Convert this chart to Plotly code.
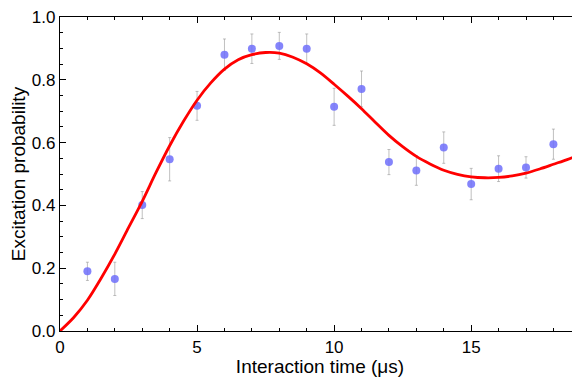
import plotly.graph_objects as go

# Measured data points
time_us = [1, 2, 3, 4, 5, 6, 7, 8, 9, 10, 11, 12, 13, 14, 15, 16, 17, 18, 19]
prob = [0.190, 0.166, 0.401, 0.547, 0.717, 0.880, 0.899, 0.908, 0.899, 0.714,
        0.771, 0.538, 0.511, 0.584, 0.468, 0.517, 0.521, 0.595, 0.632]
prob_err = [0.029, 0.053, 0.043, 0.069, 0.046, 0.050, 0.047, 0.043, 0.047, 0.059,
            0.057, 0.040, 0.047, 0.050, 0.050, 0.041, 0.034, 0.048, 0.045]

# Fit curve
fit_t = [0, 0.5, 1, 1.5, 2, 2.5, 3, 3.5, 4, 4.5, 5, 5.5, 6, 6.5, 7, 7.5, 8, 8.5,
         9, 9.5, 10, 10.5, 11, 11.5, 12, 12.5, 13, 13.5, 14, 14.5, 15, 15.5, 16,
         16.5, 17, 17.5, 18, 18.5, 19]
fit_p = [0.0, 0.043, 0.098, 0.168, 0.245, 0.329, 0.413, 0.504, 0.590, 0.667,
         0.735, 0.790, 0.834, 0.864, 0.880, 0.887, 0.885, 0.872, 0.851, 0.822,
         0.786, 0.748, 0.708, 0.665, 0.623, 0.587, 0.556, 0.532, 0.512, 0.499,
         0.491, 0.488, 0.489, 0.494, 0.503, 0.516, 0.531, 0.546, 0.562]

x_ticks = [0, 5, 10, 15]
y_ticks = [0.0, 0.2, 0.4, 0.6, 0.8, 1.0]
y_tick_text = ["0.0", "0.2", "0.4", "0.6", "0.8", "1.0"]

fig = go.Figure()
fig.add_trace(go.Scatter(
    x=time_us, y=prob, mode="markers",
    marker=dict(size=8, color="rgba(110,110,250,0.85)"),
    error_y=dict(type="data", array=prob_err, color="rgba(150,150,150,0.6)",
                 thickness=1, width=1.5),
    showlegend=False,
))
fig.add_trace(go.Scatter(
    x=fit_t, y=fit_p, mode="lines",
    line=dict(color="#ff0000", width=2.8, shape="spline", smoothing=0.8),
    showlegend=False,
))

tick_font = dict(family="Liberation Sans, Arial, sans-serif", size=17, color="black")
title_font = dict(family="Liberation Sans, Arial, sans-serif", size=19, color="black")
fig.update_layout(
    width=572, height=373,
    margin=dict(l=52, r=0, t=9, b=50),
    paper_bgcolor="white", plot_bgcolor="white",
    font=tick_font,
    xaxis=dict(
        range=[0, 18.97], tickvals=x_ticks, ticks="inside", ticklen=6,
        tickcolor="black", showline=True, linecolor="black", linewidth=1.2,
        mirror="ticks", showgrid=False, zeroline=False, automargin=False,
        ticklabeloverflow="allow",
        minor=dict(ticks="inside", dtick=1, ticklen=3, tickcolor="black", showgrid=False),
        title=dict(text="Interaction time (μs)", font=title_font, standoff=2),
        tickfont=tick_font,
    ),
    yaxis=dict(
        range=[0, 1.0], tickvals=y_ticks, ticktext=y_tick_text, ticks="inside",
        ticklen=6, tickcolor="black", showline=True, linecolor="black",
        linewidth=1.2, showgrid=False, zeroline=False, automargin=False,
        ticklabeloverflow="allow",
        minor=dict(ticks="inside", dtick=0.05, ticklen=3, tickcolor="black", showgrid=False),
        title=dict(text="Excitation probability", font=title_font, standoff=4),
        tickfont=tick_font,
    ),
)

fig.write_html("out.html")
